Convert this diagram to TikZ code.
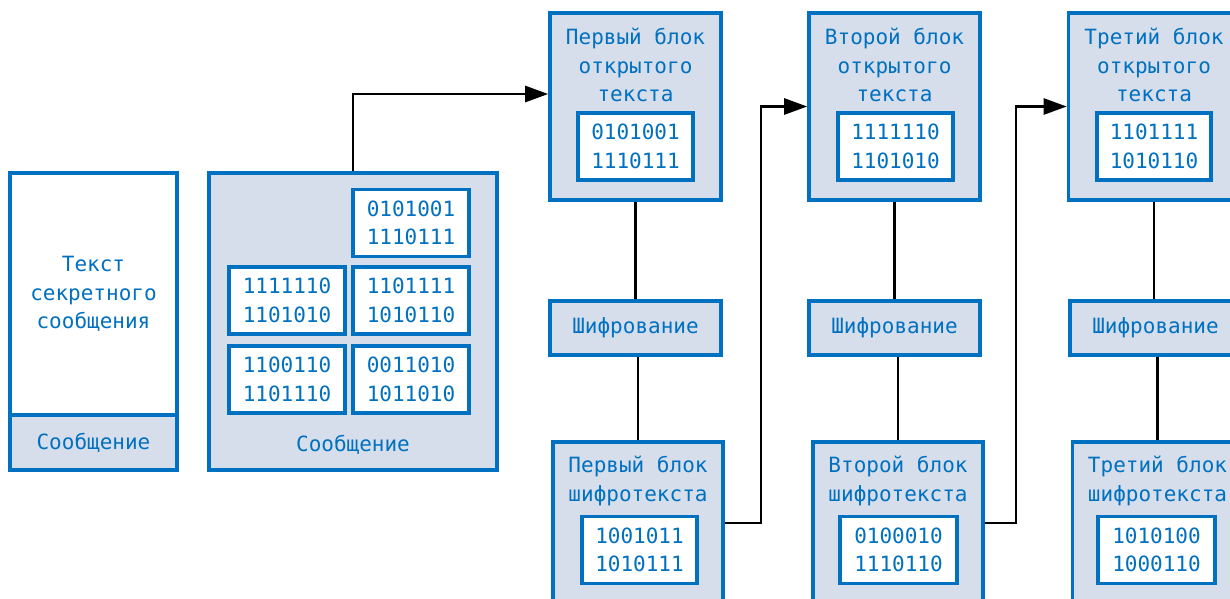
\documentclass[tikz,border=0pt]{standalone}
\usepackage{fontspec}
\newfontfamily\diagfont{DejaVu Sans Mono}
\usepackage{tikz}
\usetikzlibrary{arrows.meta, positioning}
\definecolor{edge}{HTML}{0070C0}
\definecolor{panel}{HTML}{D5DEEA}

\begin{document}
\begin{tikzpicture}[x=1pt, y=-1pt,
  txt/.style={align=center, text=edge, inner sep=0pt,
              font={\diagfont\fontsize{21}{28.5}\selectfont}},
  block/.style={rectangle, draw=edge, fill=panel, line width=3.6pt,
                minimum width=171pt, minimum height=187pt},
  encbox/.style={rectangle, draw=edge, fill=panel, line width=3.6pt, txt,
                 minimum width=171pt, minimum height=54pt},
  bits/.style={rectangle, draw=edge, fill=white, line width=3.6pt, txt,
               minimum width=115pt, minimum height=67pt},
  link/.style={line width=2.6pt},
  arrow/.style={-{Triangle[length=23pt, width=16pt]}, line width=2.6pt},
]
  \useasboundingbox (0,0) rectangle (1230,598);

  % source message
  \node[rectangle, draw=edge, fill=white, line width=3.6pt,
        minimum width=167pt, minimum height=242pt] (plain) at (93.5,294) {};
  \node[txt] (plaintxt) at (93.5,294) {Текст\\секретного\\сообщения};
  \node[encbox, minimum width=167pt, minimum height=55pt] (plainlbl)
    at (93.5,442.5) {Сообщение};

  % message split into blocks
  \node[rectangle, draw=edge, fill=panel, line width=3.6pt,
        minimum width=288pt, minimum height=297pt] (msg) at (353,321.5) {};
  \node[bits, minimum width=116pt] (m1) at (411,223) {0101001\\1110111};
  \node[bits, minimum width=116pt] (m2) at (287,300.5) {1111110\\1101010};
  \node[bits, minimum width=116pt] (m3) at (411,300.5) {1101111\\1010110};
  \node[bits, minimum width=116pt] (m4) at (287,379.5) {1100110\\1101110};
  \node[bits, minimum width=116pt] (m5) at (411,379.5) {0011010\\1011010};
  \node[txt] (msglbl) at (353,445) {Сообщение};

  % first block
  \node[block] (p1) at (635.5,106.5) {};
  \node[txt] (p1t) at (635.5,65) {Первый блок\\открытого\\текста};
  \node[bits] (p1b) at (635.5,146.5) {0101001\\1110111};
  \node[encbox] (e1) at (635.5,328) {Шифрование};
  \node[block, minimum width=170pt, minimum height=188pt] (c1) at (638,536) {};
  \node[txt] (c1t) at (638,481) {Первый блок\\шифротекста};
  \node[bits, minimum width=115pt] (c1b) at (639.5,550) {1001011\\1010111};

  % second block
  \node[block] (p2) at (894.5,106.5) {};
  \node[txt] (p2t) at (894.5,65) {Второй блок\\открытого\\текста};
  \node[bits] (p2b) at (895.5,146.5) {1111110\\1101010};
  \node[encbox] (e2) at (894.5,328) {Шифрование};
  \node[block, minimum width=170pt, minimum height=188pt] (c2) at (898,536) {};
  \node[txt] (c2t) at (898,481) {Второй блок\\шифротекста};
  \node[bits, minimum width=117pt] (c2b) at (898.5,550) {0100010\\1110110};

  % third block
  \node[block] (p3) at (1154,106.5) {};
  \node[txt] (p3t) at (1154,65) {Третий блок\\открытого\\текста};
  \node[bits, minimum width=114pt] (p3b) at (1154,146.5) {1101111\\1010110};
  \node[encbox] (e3) at (1155.5,328) {Шифрование};
  \node[block, minimum width=170pt, minimum height=188pt] (c3) at (1157.5,536) {};
  \node[txt] (c3t) at (1157.5,481) {Третий блок\\шифротекста};
  \node[bits, minimum width=117pt] (c3b) at (1156.5,550) {1010100\\1000110};

  \draw[link] (p1.south) -- (e1.north -| p1.south);
  \draw[link] (e1.south -| c1.north) -- (c1.north);
  \draw[link] (p2.south) -- (e2.north -| p2.south);
  \draw[link] (e2.south -| c2.north) -- (c2.north);
  \draw[link] (p3.south) -- (e3.north -| p3.south);
  \draw[link] (e3.south -| c3.north) -- (c3.north);

  \draw[arrow] (msg.north) |- ([yshift=12.5pt]p1.west);
  \draw[arrow] ([yshift=13pt]c1.east) -- ++(36,0) |- (p2.west);
  \draw[arrow] ([yshift=13pt]c2.east) -- ++(31,0) |- (p3.west);
\end{tikzpicture}
\end{document}
